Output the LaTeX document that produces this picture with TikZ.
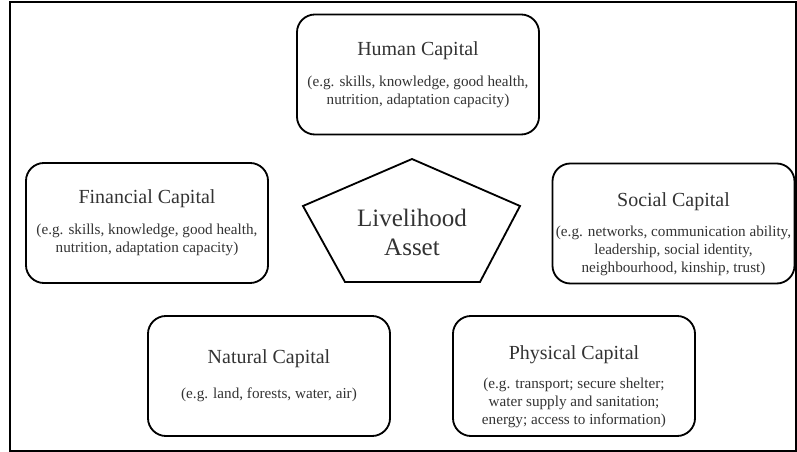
\documentclass[tikz,border=0pt]{standalone}
\usepackage{fontspec}
\setmainfont{Liberation Serif}
\usetikzlibrary{positioning}
% optional argument: strut height, pushes the text block down in its box
\newcommand{\captitle}[2][0pt]{{\fontsize{14.2}{17}\selectfont\rule{0pt}{#1}#2}}

\begin{document}
\begin{tikzpicture}[
    x=0.025cm, y=-0.025cm,
    capbox/.style={rectangle, draw, line width=1.3pt, rounded corners=0.45cm, minimum width=6.05cm, minimum height=3cm, inner xsep=1pt, align=center, text=black!80, font=\fontsize{10.8}{12.8}\selectfont},
    outline/.style={draw, line width=1.3pt, line join=miter}
]
\useasboundingbox (0,0) rectangle (797,452);
\draw[line width=1pt] (10,2) rectangle (796,451);

% the five capitals
\node[capbox] (human) at (418,74.5) {\captitle{Human Capital}\\[9pt](e.g. skills, knowledge, good health,\\nutrition, adaptation capacity)};
\node[capbox] (financial) at (147,223) {\captitle{Financial Capital}\\[9pt](e.g. skills, knowledge, good health,\\nutrition, adaptation capacity)};
\node[capbox] (social) at (673.5,223.5) {\captitle[25pt]{Social Capital}\\[8pt](e.g. networks, communication ability,\\leadership, social identity,\\neighbourhood, kinship, trust)};
\node[capbox] (natural) at (269,376) {\captitle{Natural Capital}\\[12pt](e.g. land, forests, water, air)};
\node[capbox] (physical) at (574,376) {\captitle[25pt]{Physical Capital}\\[8pt](e.g. transport; secure shelter;\\water supply and sanitation;\\energy; access to information)};

% pentagon in the middle
\draw[outline] (303,206) -- (412,159) -- (520,206) -- (480,282) -- (345,282) -- cycle;
\node[align=center, text=black!80, font=\fontsize{17.8}{20.6}\selectfont] (asset) at (412,232.5) {Livelihood\\Asset};
\end{tikzpicture}
\end{document}
